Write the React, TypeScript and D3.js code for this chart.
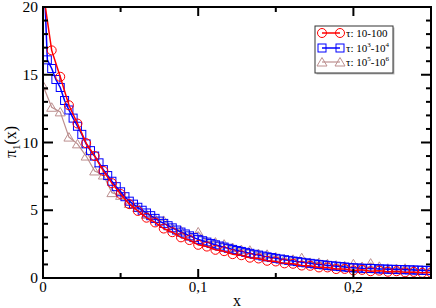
import React from "react";
import * as d3 from "d3";

const redX = [0,0.0056,0.0111,0.0167,0.0222,0.0278,0.0333,0.0389,0.0444,0.05,0.0556,0.0611,0.0667,0.0722,0.0778,0.0833,0.0889,0.0944,0.1,0.1056,0.1111,0.1167,0.1222,0.1278,0.1333,0.1389,0.1444,0.15,0.1556,0.1611,0.1667,0.1722,0.1778,0.1833,0.1889,0.1944,0.2,0.2056,0.2111,0.2167,0.2222,0.2278,0.2333,0.2389,0.2444,0.25];
const redY = [21.2,16.8,14.85,12.75,11.4,9.95,9.0,7.9,7.0,6.2,5.45,4.95,4.45,4.1,3.65,3.38,3.0,2.8,2.45,2.32,2.08,1.98,1.76,1.68,1.5,1.44,1.27,1.22,1.08,1.05,0.92,0.9,0.78,0.78,0.66,0.67,0.56,0.6,0.5,0.54,0.46,0.5,0.42,0.45,0.38,0.4];

const blueX = [0,0.0028,0.0056,0.0083,0.0111,0.0139,0.0167,0.0194,0.0222,0.025,0.0278,0.0306,0.0333,0.0361,0.0389,0.0417,0.0444,0.0472,0.05,0.0528,0.0556,0.0583,0.0611,0.0639,0.0667,0.0694,0.0722,0.075,0.0778,0.0806,0.0833,0.0861,0.0889,0.0917,0.0944,0.0972,0.1,0.1028,0.1056,0.1083,0.1111,0.1139,0.1167,0.1194,0.1222,0.125,0.1278,0.1306,0.1333,0.1361,0.1389,0.1417,0.1444,0.1472,0.15,0.1528,0.1556,0.1583,0.1611,0.1639,0.1667,0.1694,0.1722,0.175,0.1778,0.1806,0.1833,0.1861,0.1889,0.1917,0.1944,0.1972,0.2,0.2028,0.2056,0.2083,0.2111,0.2139,0.2167,0.2194,0.2222,0.225,0.2278,0.2306,0.2333,0.2361,0.2389,0.2417,0.2444,0.2472,0.25];
const blueY = [24.0,16.1,15.46,14.65,14.06,13.1,12.4,11.8,11.2,10.6,9.9,9.4,9.0,8.5,8.0,7.56,7.14,6.74,6.36,6.0,5.67,5.45,5.22,5.0,4.8,4.6,4.4,4.2,4.03,3.86,3.7,3.54,3.39,3.25,3.11,2.98,2.85,2.75,2.65,2.55,2.45,2.36,2.28,2.19,2.11,2.03,1.96,1.89,1.82,1.75,1.69,1.62,1.56,1.51,1.45,1.4,1.35,1.3,1.25,1.21,1.16,1.12,1.08,1.04,1.0,0.97,0.93,0.9,0.87,0.84,0.81,0.78,0.75,0.74,0.72,0.71,0.7,0.69,0.67,0.66,0.65,0.64,0.63,0.62,0.61,0.6,0.59,0.58,0.57,0.56,0.55];

const triX = redX;
const triY = [14.2,12.6,12.26,10.4,9.9,9.0,7.9,7.6,6.3,6.1,5.5,5.2,4.7,4.4,4.25,3.7,3.5,3.1,3.4,2.7,2.65,2.5,2.25,2.1,2.05,1.8,1.75,1.55,1.4,1.38,1.5,1.15,1.15,1.05,0.95,0.9,1.05,0.85,1.1,0.86,0.72,0.7,0.72,0.62,0.57,0.55];

const xTicks = [0, 0.1, 0.2];
const xTickLabels = ["0", "0,1", "0,2"];
const xMinor = [0.05, 0.15, 0.25];
const yTicks = [0, 5, 10, 15, 20];
const yMinor = [1,2,3,4,6,7,8,9,11,12,13,14,16,17,18,19];

const W = 436, H = 308;
const M = { left: 43, right: 5, top: 7, bottom: 30 };
const x = d3.scaleLinear().domain([0, 0.25]).range([M.left, W - M.right]);
const y = d3.scaleLinear().domain([0, 20]).range([H - M.bottom, M.top]);

const RED = "#ff0000", BLUE = "#0000ff", TRI = "#bc8f8f";

function circle(cx: number, cy: number, k: string) {
  return <circle key={k} cx={cx} cy={cy} r={4.5} fill="none" stroke={RED} strokeWidth={1} />;
}
function square(cx: number, cy: number, k: string) {
  return <rect key={k} x={cx - 4} y={cy - 4} width={8} height={8} fill="none" stroke={BLUE} strokeWidth={1} />;
}
function tri(cx: number, cy: number, k: string) {
  const s = 5;
  return <path key={k} d={`M${cx - s},${cy + s * 0.8}L${cx + s},${cy + s * 0.8}L${cx},${cy - s * 0.9}Z`} fill="none" stroke={TRI} strokeWidth={1} />;
}

export default function App() {
  const line = d3.line<[number, number]>().x(d => x(d[0])).y(d => y(d[1]));
  const red = redX.map((v, i) => [v, redY[i]] as [number, number]);
  const blue = blueX.map((v, i) => [v, blueY[i]] as [number, number]);
  const tr = triX.map((v, i) => [v, triY[i]] as [number, number]);
  const x0 = M.left, x1 = W - M.right, y0 = H - M.bottom, y1 = M.top;
  const font = "'Liberation Serif', 'Times New Roman', serif";
  const leg = { x: 315, y: 26, w: 78, h: 47 };
  const rows = [33, 48, 62];
  return (
    <svg width={W} height={H} style={{ position: "absolute", left: 0, top: 0 }} fontFamily={font}>
      <rect width={W} height={H} fill="#fff" />
      <defs>
        <clipPath id="pc"><rect x={x0} y={y1} width={x1 - x0} height={y0 - y1} /></clipPath>
      </defs>
      <g clipPath="url(#pc)">
        <path d={line(tr) || ""} fill="none" stroke={TRI} strokeWidth={1.2} />
        {tr.map((d, i) => tri(x(d[0]), y(d[1]), "t" + i))}
        <path d={line(blue) || ""} fill="none" stroke={BLUE} strokeWidth={1.5} />
        {blue.map((d, i) => square(x(d[0]), y(d[1]), "b" + i))}
        <path d={line(red) || ""} fill="none" stroke={RED} strokeWidth={1.5} />
        {red.map((d, i) => circle(x(d[0]), y(d[1]), "r" + i))}
      </g>
      {/* frame */}
      <rect x={x0} y={y1} width={x1 - x0} height={y0 - y1} fill="none" stroke="#000" strokeWidth={2} />
      {/* x ticks */}
      {xTicks.map((t, i) => (
        <g key={"xt" + i}>
          <line x1={x(t)} x2={x(t)} y1={y0} y2={y0 - 9} stroke="#000" strokeWidth={2} />
          <line x1={x(t)} x2={x(t)} y1={y1} y2={y1 + 9} stroke="#000" strokeWidth={2} />
          <text x={x(t)} y={y0 + 14} textAnchor="middle" fontSize={15}>{xTickLabels[i]}</text>
        </g>
      ))}
      {xMinor.map((t, i) => (
        <g key={"xm" + i}>
          <line x1={x(t)} x2={x(t)} y1={y0} y2={y0 - 5} stroke="#000" strokeWidth={2} />
          <line x1={x(t)} x2={x(t)} y1={y1} y2={y1 + 5} stroke="#000" strokeWidth={2} />
        </g>
      ))}
      {yTicks.map((t, i) => (
        <g key={"yt" + i}>
          <line x1={x0} x2={x0 + 10} y1={y(t)} y2={y(t)} stroke="#000" strokeWidth={2} />
          <line x1={x1} x2={x1 - 10} y1={y(t)} y2={y(t)} stroke="#000" strokeWidth={2} />
          <text x={x0 - 5} y={y(t) + 5} textAnchor="end" fontSize={15.5}>{String(t)}</text>
        </g>
      ))}
      {yMinor.map((t, i) => (
        <g key={"ym" + i}>
          <line x1={x0} x2={x0 + 5} y1={y(t)} y2={y(t)} stroke="#000" strokeWidth={2} />
          <line x1={x1} x2={x1 - 5} y1={y(t)} y2={y(t)} stroke="#000" strokeWidth={2} />
        </g>
      ))}
      {/* axis titles */}
      <text x={(x0 + x1) / 2} y={306} textAnchor="middle" fontSize={16}>x</text>
      <text transform={`translate(16,142) rotate(-90)`} textAnchor="middle" fontSize={16}>
        π<tspan fontSize={11} dy={4}>1</tspan><tspan dy={-4}>(x)</tspan>
      </text>
      {/* legend */}
      <rect x={leg.x + 1.5} y={leg.y + 1.5} width={leg.w} height={leg.h} fill="#bbb" />
      <rect x={leg.x} y={leg.y} width={leg.w} height={leg.h} fill="#fff" stroke="#333" strokeWidth={1} />
      {rows.map((ry, i) => {
        const col = [RED, BLUE, TRI][i];
        const mk = [circle, square, tri][i];
        return (
          <g key={"lg" + i}>
            <line x1={322} x2={340} y1={ry} y2={ry} stroke={col} strokeWidth={i === 2 ? 1.2 : 1.5} />
            {mk(322, ry, "la" + i)}
            {mk(340, ry, "lb" + i)}
          </g>
        );
      })}
      <text x={346} y={rows[0] + 4} fontSize={11}>τ: 10-100</text>
      <text x={346} y={rows[1] + 4} fontSize={11}>τ: 10<tspan fontSize={7} dy={-5}>3</tspan><tspan dy={5}>-10</tspan><tspan fontSize={7} dy={-5}>4</tspan></text>
      <text x={346} y={rows[2] + 4} fontSize={11}>τ: 10<tspan fontSize={7} dy={-5}>5</tspan><tspan dy={5}>-10</tspan><tspan fontSize={7} dy={-5}>6</tspan></text>
    </svg>
  );
}
